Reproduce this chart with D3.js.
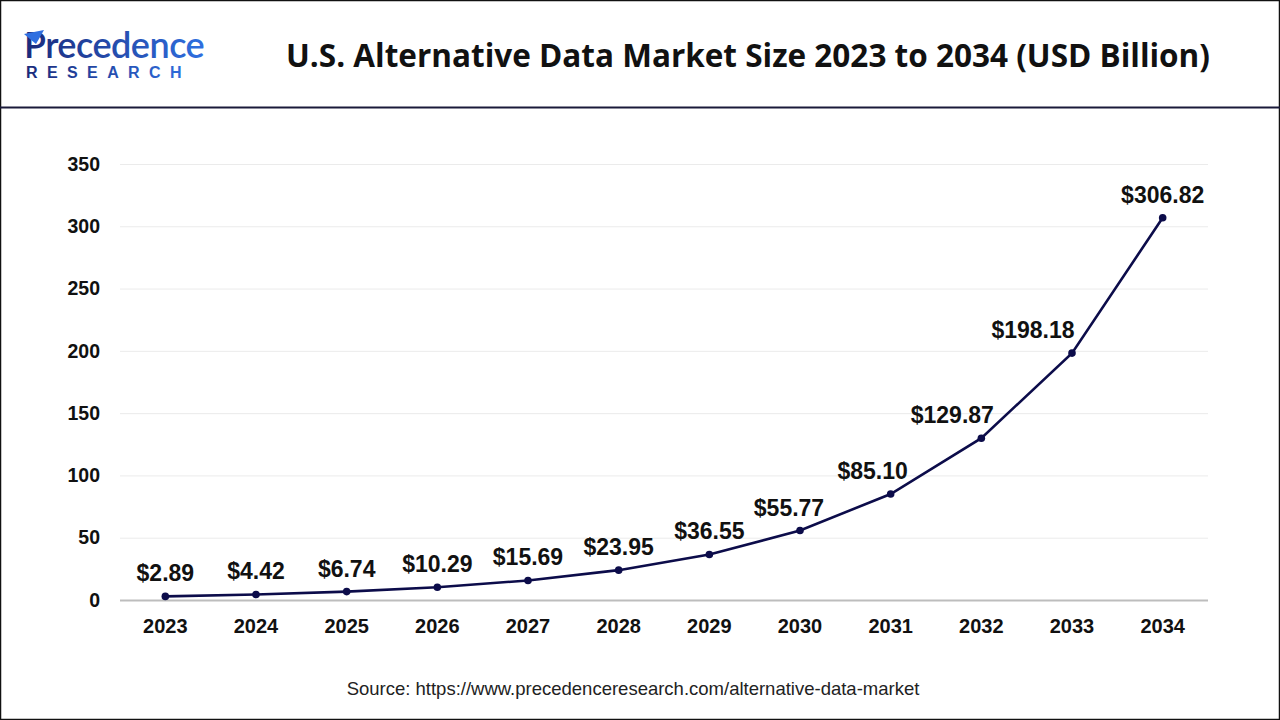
<!DOCTYPE html>
<html><head><meta charset="utf-8">
<script src="https://cdn.jsdelivr.net/npm/d3@7"></script>
<style>html,body{margin:0;padding:0;background:#fff;}svg{display:block;}</style>
</head><body>
<script>
const years = ["2023","2024","2025","2026","2027","2028","2029","2030","2031","2032","2033","2034"];
const values = [2.89,4.42,6.74,10.29,15.69,23.95,36.55,55.77,85.10,129.87,198.18,306.82];
const yTicks = [0,50,100,150,200,250,300,350];
const title = "U.S. Alternative Data Market Size 2023 to 2034 (USD Billion)";
const source = "Source: https://www.precedenceresearch.com/alternative-data-market";

const W = 1280, H = 720;
const svg = d3.select("body").append("svg").attr("width", W).attr("height", H);
svg.append("rect").attr("x",0.5).attr("y",0.5).attr("width",W-1).attr("height",H-1).attr("fill","#fff").attr("stroke","#111").attr("stroke-width",1.5);
svg.append("line").attr("x1",0).attr("x2",W).attr("y1",107.5).attr("y2",107.5).attr("stroke","#1a1a3a").attr("stroke-width",2);

// logo
const defs = svg.append("defs");
const g1 = defs.append("linearGradient").attr("id","lg").attr("x1","0").attr("x2","1");
g1.append("stop").attr("offset","0").attr("stop-color","#1b2a7a");
g1.append("stop").attr("offset","1").attr("stop-color","#2f6fe0");
svg.append("text").attr("x",24).attr("y",58).attr("font-family","Lato, 'Open Sans', sans-serif").attr("font-size",36).attr("font-weight",600)
  .attr("fill","url(#lg)").attr("letter-spacing",-0.5).text("Precedence");
svg.append("path").attr("d","M24,34 L44,30 L36,44 Z").attr("fill","#2f6fe0");
svg.append("text").attr("x",26).attr("y",78).attr("font-family","'Liberation Sans', Arial, sans-serif").attr("font-size",16).attr("font-weight",700)
  .attr("fill","url(#lg)").attr("letter-spacing",9.4).text("RESEARCH");

svg.append("text").attr("x",748).attr("y",67).attr("text-anchor","middle")
  .attr("font-family","'Open Sans', sans-serif").attr("font-size",31.5).attr("font-weight",700).attr("fill","#111")
  .text(title);

const x = d3.scaleBand().domain(years).range([120,1208]);
const y = d3.scaleLinear().domain([0,350]).range([600,164]);

const grid = svg.append("g");
grid.selectAll("line").data(yTicks.filter(d=>d>0)).join("line")
  .attr("x1",120).attr("x2",1208).attr("y1",d=>y(d)+0.5).attr("y2",d=>y(d)+0.5)
  .attr("stroke","#ebebeb").attr("stroke-width",1);
svg.append("line").attr("x1",120).attr("x2",1208).attr("y1",y(0)+0.5).attr("y2",y(0)+0.5).attr("stroke","#bdbdbd").attr("stroke-width",2);

const font = "'Liberation Sans', Arial, sans-serif";
const yAxis = d3.axisLeft(y).tickValues(yTicks).tickSize(0).tickPadding(0);
const ya = svg.append("g").attr("transform","translate(100,0)").call(yAxis);
ya.select(".domain").remove();
ya.selectAll("text").attr("font-family",font).attr("font-size",19.5).attr("font-weight",700).attr("fill","#111");

const xAxis = d3.axisBottom(x).tickSize(0).tickPadding(0);
const xa = svg.append("g").attr("transform","translate(0,619)").call(xAxis);
xa.select(".domain").remove();
xa.selectAll("text").attr("font-family",font).attr("font-size",20).attr("font-weight",700).attr("fill","#111");

const cx = d => x(d) + x.bandwidth()/2;
const line = d3.line().x((d,i)=>cx(years[i])).y(d=>y(d));
svg.append("path").datum(values).attr("d",line).attr("fill","none").attr("stroke","#0c0c4a").attr("stroke-width",2.6);
svg.selectAll("circle.pt").data(values).join("circle").attr("class","pt")
  .attr("cx",(d,i)=>cx(years[i])).attr("cy",d=>y(d)).attr("r",3.8).attr("fill","#0c0c4a");

const labelDx = [0,0,0,0,0,0,0,-11,-18,-29,-39,0];
svg.selectAll("text.lbl").data(values).join("text").attr("class","lbl")
  .attr("x",(d,i)=>cx(years[i])+labelDx[i]).attr("y",d=>y(d)-15)
  .attr("text-anchor","middle").attr("font-family",font).attr("font-size",23).attr("font-weight",700).attr("fill","#111")
  .text(d=>"$"+d.toFixed(2));

svg.append("text").attr("x",633).attr("y",695).attr("text-anchor","middle").attr("font-family",font)
  .attr("font-size",18.5).attr("fill","#222").text(source);
</script>
</body></html>
